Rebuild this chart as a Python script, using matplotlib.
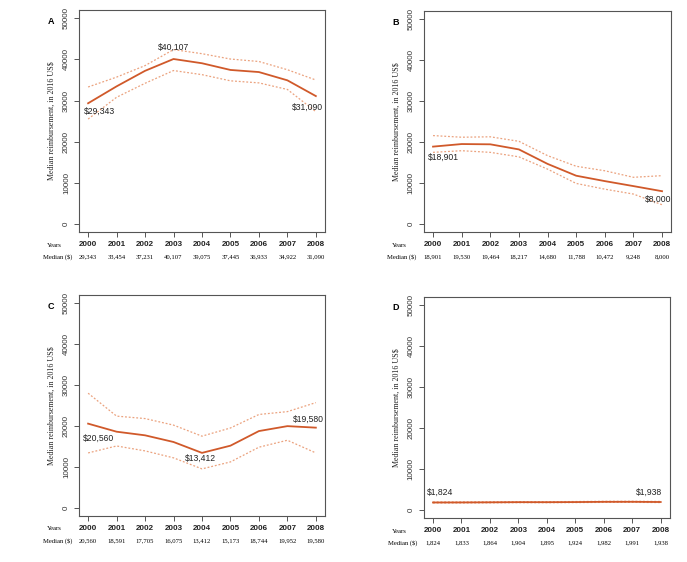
import matplotlib
matplotlib.use("Agg")
import matplotlib.pyplot as plt
import numpy as np

# data
years = [2000, 2001, 2002, 2003, 2004, 2005, 2006, 2007, 2008]

med_a = [29343, 33454, 37231, 40107, 39075, 37445, 36933, 34922, 31090]
hi_a = [33300, 35700, 38500, 42400, 41400, 40100, 39500, 37500, 35000]
lo_a = [25500, 30800, 34200, 37300, 36300, 34800, 34300, 32700, 27300]

med_b = [18901, 19530, 19464, 18217, 14680, 11788, 10472, 9248, 8000]
hi_b = [21600, 21200, 21300, 20200, 16700, 14100, 13000, 11400, 11800]
lo_b = [17500, 17900, 17500, 16400, 13400, 9900, 8500, 7300, 4700]

med_c = [20560, 18591, 17705, 16075, 13412, 15173, 18744, 19952, 19580]
hi_c = [28000, 22400, 21800, 20200, 17500, 19500, 22800, 23500, 25700]
lo_c = [13400, 15100, 13900, 12200, 9500, 11200, 14800, 16500, 13400]

med_d = [1824, 1833, 1864, 1904, 1895, 1924, 1982, 1991, 1938]
hi_d = [1950, 1960, 1990, 2030, 2020, 2050, 2110, 2120, 2070]
lo_d = [1700, 1710, 1740, 1780, 1770, 1800, 1850, 1860, 1810]

panels = ["A", "B", "C", "D"]
meds = [med_a, med_b, med_c, med_d]
his = [hi_a, hi_b, hi_c, hi_d]
los = [lo_a, lo_b, lo_c, lo_d]

# annotation positions: (x, y, text)
notes = [
    [(2000.4, 27400, "$29,343"), (2003.0, 42900, "$40,107"), (2007.7, 28400, "$31,090")],
    [(2000.35, 16400, "$18,901"), (2007.85, 5900, "$8,000")],
    [(2000.35, 16900, "$20,560"), (2003.95, 12000, "$13,412"), (2007.75, 21600, "$19,580")],
    [(2000.25, 4400, "$1,824"), (2007.6, 4400, "$1,938")],
]

SOLID = "#d0592a"
DOTTED = "#eba27e"
SANS = "Liberation Sans"
SERIF = "Liberation Serif"

fig = plt.figure(figsize=(6.87, 5.62), dpi=100)
rects = [
    [0.115, 0.587, 0.358, 0.395],
    [0.617, 0.587, 0.360, 0.393],
    [0.115, 0.082, 0.358, 0.393],
    [0.617, 0.078, 0.358, 0.394],
]

for i in range(4):
    ax = fig.add_axes(rects[i])
    ax.plot(years, his[i], color=DOTTED, lw=0.9, ls=(0, (1.5, 1.5)))
    ax.plot(years, los[i], color=DOTTED, lw=0.9, ls=(0, (1.5, 1.5)))
    ax.plot(years, meds[i], color=SOLID, lw=1.3)

    ax.set_xlim(1999.68, 2008.32)
    ax.set_ylim(-2000, 52000)
    ax.set_yticks(np.arange(0, 50001, 10000))
    ax.set_yticklabels([str(v) for v in range(0, 50001, 10000)],
                       rotation=90, va="center", fontsize=5.8,
                       family=SANS, color="#333333")
    ax.set_xticks(years)
    ax.set_xticklabels([str(y) for y in years], fontsize=5.8,
                       family=SANS, fontweight="bold", color="#222222")
    ax.tick_params(axis="both", length=3.5, width=0.7, color="#555555", pad=3)
    for s in ax.spines.values():
        s.set_color("#555555")
        s.set_linewidth(0.8)

    ax.set_ylabel("Median reimbursement, in 2016 US$", family=SERIF,
                  fontsize=5.8, labelpad=5, color="#222222")

    for x, y, t in notes[i]:
        ax.text(x, y, t, ha="center", va="center", fontsize=6.2,
                family=SANS, color="#222222")

    tr = ax.get_xaxis_transform()
    ax.text(1998.82, -0.059, "Years", transform=tr, ha="center", va="center",
            family=SERIF, fontsize=4.8, clip_on=False)
    ax.text(1998.92, -0.113, "Median ($)", transform=tr, ha="center",
            va="center", family=SERIF, fontsize=4.8, clip_on=False)
    for x, m in zip(years, meds[i]):
        ax.text(x, -0.113, f"{m:,}", transform=tr, ha="center", va="center",
                family=SERIF, fontsize=4.8, clip_on=False)

    ax.text(1998.7, 0.95, panels[i], transform=tr, ha="center", va="center",
            family=SANS, fontweight="bold", fontsize=6.5, clip_on=False)

fig.savefig("out.png", dpi=100)
